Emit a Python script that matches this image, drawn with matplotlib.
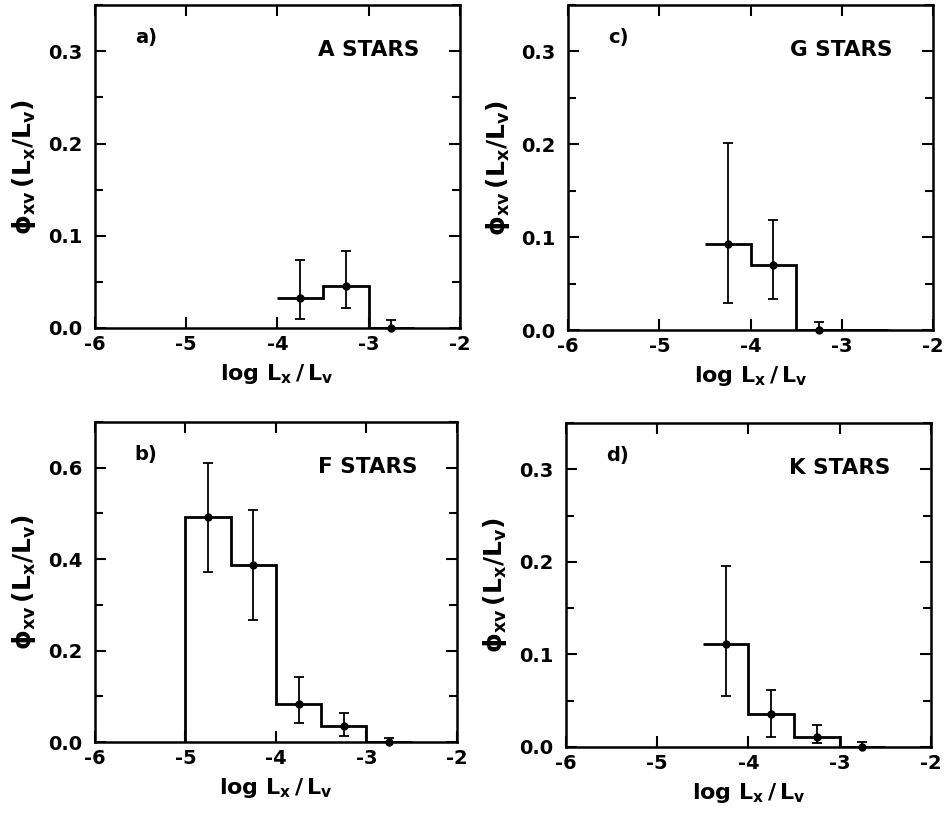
import matplotlib
matplotlib.use("Agg")
import matplotlib.pyplot as plt
from matplotlib.ticker import MultipleLocator, FormatStrFormatter

plt.rcParams["font.family"] = "DejaVu Sans"
plt.rcParams["font.weight"] = "bold"
plt.rcParams["axes.unicode_minus"] = False
plt.rcParams["mathtext.fontset"] = "custom"
plt.rcParams["mathtext.rm"] = "DejaVu Sans:bold"
plt.rcParams["mathtext.it"] = "DejaVu Sans:bold"
plt.rcParams["mathtext.default"] = "rm"

# bin edges (log Lx/Lv) and phi values per spectral class
a_edges = [-4.0, -3.5, -3.0, -2.5]
a_vals = [0.033, 0.045, 0.0]
a_lo = [0.010, 0.022, 0.0]
a_hi = [0.074, 0.084, 0.009]

b_edges = [-5.0, -4.5, -4.0, -3.5, -3.0, -2.5]
b_vals = [0.492, 0.387, 0.084, 0.034, 0.0]
b_lo = [0.371, 0.267, 0.042, 0.014, 0.0]
b_hi = [0.611, 0.507, 0.142, 0.063, 0.009]

c_edges = [-4.5, -4.0, -3.5, -3.0]
c_vals = [0.093, 0.070, 0.0]
c_lo = [0.029, 0.033, 0.0]
c_hi = [0.201, 0.119, 0.009]

d_edges = [-4.5, -4.0, -3.5, -3.0, -2.5]
d_vals = [0.111, 0.036, 0.011, 0.0]
d_lo = [0.055, 0.011, 0.004, 0.0]
d_hi = [0.196, 0.062, 0.024, 0.005]

panels = [
    # label, name, edges, vals, lo, hi, ymax, major, minor, baseline, rect
    ("a)", "A STARS", a_edges, a_vals, a_lo, a_hi, 0.35, 0.1, 0.05, None,
     [0.1005, 0.5966, 0.386, 0.397]),
    ("c)", "G STARS", c_edges, c_vals, c_lo, c_hi, 0.35, 0.1, 0.05, None,
     [0.6013, 0.594, 0.386, 0.400]),
    ("b)", "F STARS", b_edges, b_vals, b_lo, b_hi, 0.70, 0.2, 0.1, 0,
     [0.1005, 0.0873, 0.383, 0.3936]),
    ("d)", "K STARS", d_edges, d_vals, d_lo, d_hi, 0.35, 0.1, 0.05, None,
     [0.599, 0.0812, 0.386, 0.3985]),
]

fig = plt.figure(figsize=(9.45, 8.13), dpi=100)

for label, name, edges, vals, lo, hi, ymax, major, minor, base, rect in panels:
    ax = fig.add_axes(rect)
    centers = [(edges[i] + edges[i + 1]) / 2 for i in range(len(vals))]
    ax.stairs(vals, edges, baseline=base, color="black", lw=2)
    yerr = [[v - l for v, l in zip(vals, lo)], [h - v for v, h in zip(vals, hi)]]
    ax.errorbar(centers, vals, yerr=yerr, fmt="o", color="black", ms=5,
                elinewidth=1.3, capsize=3.5, capthick=1.3, clip_on=False)
    # baseline continues to -2.5 after the last bin
    ax.plot([edges[-1], -2.5], [0, 0], color="black", lw=2)

    ax.set_xlim(-6, -2)
    ax.set_ylim(0, ymax)
    ax.xaxis.set_major_locator(MultipleLocator(1))
    ax.yaxis.set_major_locator(MultipleLocator(major))
    ax.yaxis.set_minor_locator(MultipleLocator(minor))
    ax.yaxis.set_major_formatter(FormatStrFormatter("%.1f"))
    ax.tick_params(which="both", direction="in", top=True, right=True,
                   width=1.5, labelsize=14)
    ax.tick_params(axis="y", pad=9)
    ax.tick_params(axis="x", pad=5)
    ax.tick_params(which="major", length=8)
    ax.tick_params(which="minor", length=6)
    for s in ax.spines.values():
        s.set_linewidth(1.8)

    ax.set_xlabel(r"$log\ L_x\,/\,L_v$", fontsize=16, labelpad=6)
    ax.set_ylabel(r"$\phi_{xv}\,(L_x/L_v)$", fontsize=18, labelpad=7)
    ax.text(0.11, 0.90, label, transform=ax.transAxes, fontsize=14,
            fontweight="bold", va="center")
    ax.text(0.89, 0.86, name, transform=ax.transAxes, fontsize=15.5,
            fontweight="bold", ha="right", va="center")

fig.savefig("out.png", dpi=100)
